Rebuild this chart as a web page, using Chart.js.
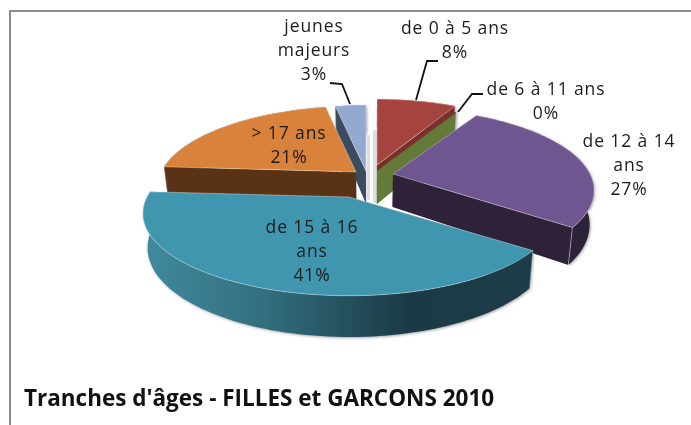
<!DOCTYPE html>
<html lang="fr">
<head>
<meta charset="utf-8">
<title>Tranches d'âges</title>
<script src="https://cdn.jsdelivr.net/npm/chart.js@4/dist/chart.umd.min.js"></script>
<style>
  html, body { margin: 0; padding: 0; background: #fff; overflow: hidden; }
  #wrap { position: absolute; left: 0; top: 0; width: 691px; height: 425px; overflow: hidden; }
  #frame { position: absolute; left: 9px; top: 10px; right: -5px; bottom: -5px; border: 2px solid #8c8c8c; }
  #pie3d { position: absolute; left: 0; top: 0; }
</style>
</head>
<body>
<div id="wrap">
  <div id="frame"></div>
  <canvas id="pie3d" width="691" height="425"></canvas>
</div>
<script>
// valeurs
const categories = ['de 0 à 5 ans', 'de 6 à 11 ans', 'de 12 à 14 ans', 'de 15 à 16 ans', '> 17 ans', 'jeunes majeurs'];
const values = [8, 0.3, 27, 41, 21, 3];

// couleurs: dessus, tranche, arrondi
const topColors = ['#a5433f', '#7a2e2c', '#6f5690', '#4096af', '#d9823b', '#93a9cf'];
const sideColors = ['#7a2e2c', '#647a39', '#2d2238', '#1b3c48', '#5a3216', '#3b4b60'];
const rimColors = ['#7a2e2c', '#647a39', '#2d2238', null, '#5a3216', '#3b4b60'];

// pointe de chaque part à l'écran (parts éclatées)
const apexX = [377, 377, 393, 349, 356, 366];
const apexY = [165, 171, 174, 197, 172, 171];
const stretchX = [0.97, 0.95, 1, 1.025, 0.99, 1];
// ordre de peinture, du fond vers l'avant
const paintOrder = [5, 0, 1, 4, 2, 3];

// étiquettes: lignes, centre x, y de la première ligne
const labelLines = [['de 0 à 5 ans', '8%'], ['de 6 à 11 ans', '0%'], ['de 12 à 14', 'ans', '27%'],
                    ['de 15 à 16', 'ans', '41%'], ['> 17 ans', '21%'], ['jeunes', 'majeurs', '3%']];
const labelX = [455, 546, 629, 312, 289, 314];
const labelY = [29, 90, 142, 228, 134, 27];
const leaders = [[[438, 61], [427, 61], [416, 100]], [[483, 94], [472, 94], [458, 112]], [[330, 83], [342, 84], [350, 104]]];

const RX = 197, RY = 79, PERSP = 0.2, DEPTH = 33, CONVERGE = 0.02, CENTER_X = 372;

// projection d'un point du disque (theta depuis midi, sens horaire)
function project(i, r, theta, down) {
  const X = r * Math.sin(theta), Y = r * Math.cos(theta);
  const k = 1 / (1 + PERSP * Y);
  let x = apexX[i] + X * RX * stretchX[i] * k;
  let y = apexY[i] - Y * RY * k;
  if (down) {
    y += DEPTH * k;
    x -= (x - CENTER_X) * CONVERGE;
  }
  return [x, y];
}

function tracePath(ctx, pts, closed) {
  ctx.beginPath();
  pts.forEach((p, n) => n ? ctx.lineTo(p[0], p[1]) : ctx.moveTo(p[0], p[1]));
  if (closed) ctx.closePath();
}

function poly(ctx, pts, fill) {
  tracePath(ctx, pts, true);
  ctx.fillStyle = fill;
  ctx.fill();
}

function arcPoints(i, a0, a1, down) {
  const pts = [];
  const steps = Math.max(2, Math.ceil((a1 - a0) / 0.03));
  for (let s = 0; s <= steps; s++) pts.push(project(i, 1, a0 + (a1 - a0) * s / steps, down));
  return pts;
}

const pie3d = {
  id: 'pie3d',
  // on remplace le dessin plat par la version en perspective
  beforeDatasetsDraw(chart) {
    const ctx = chart.ctx;
    const arcs = chart.getDatasetMeta(0).data;
    ctx.save();
    // ombres grises entre les parts
    ctx.fillStyle = '#dedede';
    ctx.fillRect(367, 135, 3, 65);
    ctx.fillRect(373, 130, 4, 73);
    paintOrder.forEach(i => {
      const a0 = arcs[i].startAngle + Math.PI / 2;
      const a1 = arcs[i].endAngle + Math.PI / 2;
      const apex = project(i, 0, 0, false), apexDown = project(i, 0, 0, true);
      const s0 = project(i, 1, a0, false), s0d = project(i, 1, a0, true);
      const s1 = project(i, 1, a1, false), s1d = project(i, 1, a1, true);

      // bord arrondi
      const top = arcPoints(i, a0, a1, false);
      const bottom = arcPoints(i, a0, a1, true).reverse();
      let rim = rimColors[i];
      if (!rim) {
        rim = ctx.createLinearGradient(145, 0, 530, 0);
        rim.addColorStop(0, '#40899f');
        rim.addColorStop(0.3, '#33707f');
        rim.addColorStop(0.68, '#1b3a46');
        rim.addColorStop(1, '#1b3c48');
      }
      ctx.shadowColor = 'rgba(0,0,0,0.35)';
      ctx.shadowBlur = 3;
      ctx.shadowOffsetX = 1;
      ctx.shadowOffsetY = 1;
      poly(ctx, top.concat(bottom), rim);
      ctx.shadowColor = 'transparent';

      // faces coupées, la plus lointaine d'abord
      const faces = [[s0, s0d], [s1, s1d]];
      faces.sort((p, q) => p[0][1] - q[0][1]);
      faces.forEach(f => {
        poly(ctx, [apex, f[0], f[1], apexDown], sideColors[i]);
      });

      // arête claire entre face coupée et bord
      ctx.strokeStyle = 'rgba(255,255,255,0.5)';
      ctx.lineWidth = 0.8;
      tracePath(ctx, faces[1], false);
      ctx.stroke();

      // dessus
      poly(ctx, [apex].concat(top), topColors[i]);
      tracePath(ctx, [apex].concat(top), true);
      ctx.strokeStyle = 'rgba(255,255,255,0.45)';
      if (i !== 1) ctx.stroke();
    });
    ctx.restore();
    return false;
  },
  afterDraw(chart) {
    const ctx = chart.ctx;
    const total = values.reduce((a, b) => a + b, 0);
    ctx.save();
    ctx.strokeStyle = '#111';
    ctx.lineWidth = 1.8;
    leaders.forEach(l => {
      tracePath(ctx, l, false);
      ctx.stroke();
    });
    ctx.font = '17.5px "Open Sans"';
    ctx.letterSpacing = '0.9px';
    ctx.fillStyle = '#1c1c1c';
    ctx.textAlign = 'center';
    ctx.textBaseline = 'middle';
    labelLines.forEach((lines, i) => {
      lines.forEach((t, n) => {
        // le dernier texte est le pourcentage calculé
        const txt = n === lines.length - 1 ? Math.round(values[i] / total * 100) + '%' : t;
        ctx.fillText(txt, labelX[i], labelY[i] + n * 24);
      });
    });
    ctx.restore();
  }
};

new Chart(document.getElementById('pie3d'), {
  type: 'pie',
  data: {
    labels: categories,
    datasets: [{ data: values, backgroundColor: topColors, borderWidth: 0 }]
  },
  options: {
    responsive: false,
    animation: false,
    layout: { padding: { left: 24, bottom: 12 } },
    plugins: {
      legend: { display: false },
      tooltip: { enabled: false },
      title: {
        display: true,
        text: "Tranches d'âges - FILLES et GARCONS 2010",
        position: 'bottom',
        align: 'start',
        color: '#111',
        font: { family: '"Open Sans"', size: 22.5, weight: 'bold' },
        padding: 0
      }
    }
  },
  plugins: [pie3d]
});
</script>
</body>
</html>
